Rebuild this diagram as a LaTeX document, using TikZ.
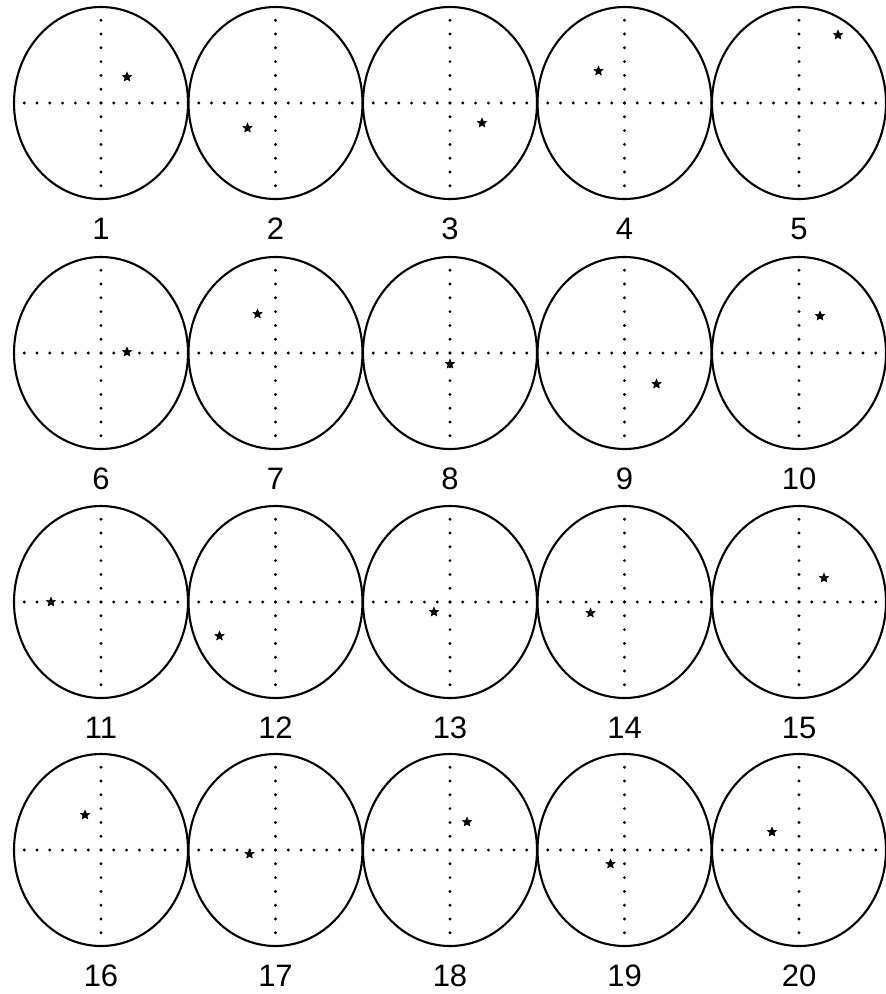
\documentclass[tikz,border=0pt]{standalone}
\usepackage{fontspec}
\setmainfont{Liberation Sans}
\usetikzlibrary{shapes.geometric}
\begin{document}
\begin{tikzpicture}[x=1pt,y=-1pt,
  ring/.style={draw, ellipse, line width=2.1pt, minimum width=174pt, minimum height=192pt, inner sep=0pt, outer sep=0pt},
  starmark/.style={star, star points=5, star point ratio=2.2, fill=black, draw=black, line width=0.6pt, inner sep=0pt, minimum size=9.5pt},
  lab/.style={font=\fontsize{31}{36}\selectfont, inner sep=0pt},
  dotmark/.style={fill=black}]
\fill[white] (0,0) rectangle (886,994);
\useasboundingbox (0,0) rectangle (886,994);
\foreach \n/\cx/\cy/\dx/\dy in {
  1/101/103/26/-26, 2/275.5/103/-28/25, 3/450/103/32/20, 4/624.5/103/-26/-32, 5/799/103/39/-68,
  6/101/353/26/-1, 7/275.5/353/-18/-39, 8/450/353/0/11, 9/624.5/353/32/31, 10/799/353/21/-37,
  11/101/602/-50/0, 12/275.5/602/-56/34, 13/450/602/-16/10, 14/624.5/602/-34/11, 15/799/602/25/-24,
  16/101/850/-16/-35, 17/275.5/850/-26/4, 18/450/850/17/-28, 19/624.5/850/-14/14, 20/799/850/-27/-18}
{
  \node[ring] (c\n) at (\cx,\cy) {};
  \foreach \k in {-6,...,6} {
    \fill[dotmark] ({\cx+12.8*\k},\cy) circle[radius=1.6pt];
    \fill[dotmark] (\cx,{\cy+13.8*\k}) circle[radius=1.6pt];
  }
  \node[starmark] (s\n) at ({\cx+\dx},{\cy+\dy}) {};
  \node[lab] (l\n) at (\cx,{\cy+126}) {\n};
}
\end{tikzpicture}
\end{document}
